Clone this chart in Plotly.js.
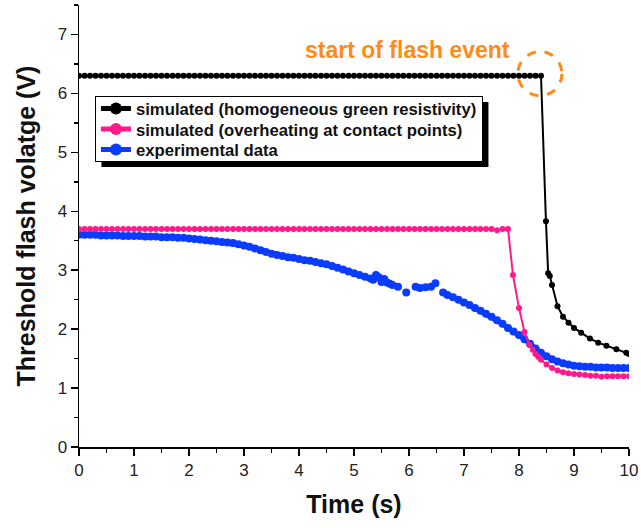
<!DOCTYPE html>
<html>
<head>
<meta charset="utf-8">
<script src="https://cdn.plot.ly/plotly-3.0.1.min.js"></script>
<style>html,body{margin:0;padding:0;background:#fff;}#chart{width:641px;height:528px;}</style>
</head>
<body>
<div id="chart"></div>
<script>
// Black: simulated (homogeneous green resistivity)
var blackT = [
  0,0.1,0.2,0.3,0.4,0.5,0.6,0.7,0.8,0.9,
  1,1.1,1.2,1.3,1.4,1.5,1.6,1.7,1.8,1.9,
  2,2.1,2.2,2.3,2.4,2.5,2.6,2.7,2.8,2.9,
  3,3.1,3.2,3.3,3.4,3.5,3.6,3.7,3.8,3.9,
  4,4.1,4.2,4.3,4.4,4.5,4.6,4.7,4.8,4.9,
  5,5.1,5.2,5.3,5.4,5.5,5.6,5.7,5.8,5.9,
  6,6.1,6.2,6.3,6.4,6.5,6.6,6.7,6.8,6.9,
  7,7.1,7.2,7.3,7.4,7.5,7.6,7.7,7.8,7.9,
  8,8.1,8.2,8.3,8.4,
  8.49,8.53,8.56,8.6,8.7,8.8,8.9,9.0,9.13,9.29,9.44,9.59,9.77,9.95,10
];
var blackV = [
  6.3,6.3,6.3,6.3,6.3,6.3,6.3,6.3,6.3,6.3,
  6.3,6.3,6.3,6.3,6.3,6.3,6.3,6.3,6.3,6.3,
  6.3,6.3,6.3,6.3,6.3,6.3,6.3,6.3,6.3,6.3,
  6.3,6.3,6.3,6.3,6.3,6.3,6.3,6.3,6.3,6.3,
  6.3,6.3,6.3,6.3,6.3,6.3,6.3,6.3,6.3,6.3,
  6.3,6.3,6.3,6.3,6.3,6.3,6.3,6.3,6.3,6.3,
  6.3,6.3,6.3,6.3,6.3,6.3,6.3,6.3,6.3,6.3,
  6.3,6.3,6.3,6.3,6.3,6.3,6.3,6.3,6.3,6.3,
  6.3,6.3,6.3,6.3,6.3,
  3.83,2.95,2.9,2.75,2.39,2.21,2.11,2.02,1.94,1.84,1.77,1.72,1.66,1.6,1.58
];

// Pink: simulated (overheating at contact points)
var pinkT = [
  0,0.1,0.2,0.3,0.4,0.5,0.6,0.7,0.8,0.9,
  1,1.1,1.2,1.3,1.4,1.5,1.6,1.7,1.8,1.9,
  2,2.1,2.2,2.3,2.4,2.5,2.6,2.7,2.8,2.9,
  3,3.1,3.2,3.3,3.4,3.5,3.6,3.7,3.8,3.9,
  4,4.1,4.2,4.3,4.4,4.5,4.6,4.7,4.8,4.9,
  5,5.1,5.2,5.3,5.4,5.5,5.6,5.7,5.8,5.9,
  6,6.1,6.2,6.3,6.4,6.5,6.6,6.7,6.8,6.9,
  7,7.1,7.2,7.3,7.4,7.5,7.6,7.7,7.8,
  7.89,8.0,8.1,8.19,8.25,8.3,8.35,8.4,8.5,8.6,8.7,8.8,8.9,9.0,9.1,9.2,9.3,9.4,9.5,9.6,9.7,9.8,9.9,10
];
var pinkV = [
  3.7,3.7,3.7,3.7,3.7,3.7,3.7,3.7,3.7,3.7,
  3.7,3.7,3.7,3.7,3.7,3.7,3.7,3.7,3.7,3.7,
  3.7,3.7,3.7,3.7,3.7,3.7,3.7,3.7,3.7,3.7,
  3.7,3.7,3.7,3.7,3.7,3.7,3.7,3.7,3.7,3.7,
  3.7,3.7,3.7,3.7,3.7,3.7,3.7,3.7,3.7,3.7,
  3.7,3.7,3.7,3.7,3.7,3.7,3.7,3.7,3.7,3.7,
  3.7,3.7,3.7,3.7,3.7,3.7,3.7,3.7,3.7,3.7,
  3.7,3.7,3.7,3.7,3.7,3.7,3.68,3.7,3.7,
  2.92,2.36,1.95,1.73,1.65,1.58,1.53,1.48,1.40,1.34,1.30,1.27,1.25,1.24,1.23,1.22,1.21,1.21,1.19,1.20,1.20,1.20,1.20,1.20
];

// Blue: experimental data
var blueT = [
  0,0.1,0.2,0.3,0.4,0.5,0.6,0.7,0.8,0.9,
  1,1.1,1.2,1.3,1.4,1.5,1.6,1.7,1.8,1.9,
  2,2.1,2.2,2.3,2.4,2.5,2.6,2.7,2.8,2.9,
  3,3.1,3.2,3.3,3.4,3.5,3.6,3.7,3.8,3.9,
  4,4.1,4.2,4.3,4.4,4.5,4.6,4.7,4.8,4.9,
  5,5.1,5.2,5.3,5.35,5.4,5.45,5.5,5.55,5.6,5.65,5.7,5.8,
  5.88,5.95,6.05,
  6.12,6.2,6.3,6.4,6.48,6.55,
  6.62,6.7,6.8,6.9,7,7.1,7.2,7.3,7.4,7.5,7.6,7.7,7.8,7.9,
  8,8.1,8.2,8.3,8.4,8.5,8.6,8.7,8.8,8.9,
  9,9.1,9.2,9.3,9.4,9.5,9.6,9.7,9.8,9.9,10
];
var blueV = [
  3.60,3.60,3.60,3.60,3.59,3.59,3.59,3.59,3.58,3.58,
  3.58,3.58,3.57,3.57,3.57,3.56,3.56,3.56,3.55,3.55,
  3.54,3.53,3.52,3.51,3.50,3.49,3.48,3.47,3.46,3.44,
  3.42,3.40,3.37,3.34,3.31,3.28,3.26,3.24,3.22,3.21,
  3.19,3.17,3.16,3.14,3.12,3.10,3.07,3.04,3.01,2.98,
  2.95,2.92,2.89,2.86,2.84,2.92,2.88,2.80,2.85,2.79,2.77,2.75,2.72,
  null,2.62,null,
  2.72,2.70,2.71,2.72,2.78,null,
  2.62,2.58,2.54,2.50,2.45,2.41,2.36,2.31,2.26,2.21,2.15,2.09,2.02,1.96,
  1.90,1.83,1.75,1.67,1.60,1.54,1.49,1.45,1.42,1.40,
  1.38,1.37,1.36,1.36,1.35,1.35,1.35,1.34,1.34,1.34,1.34
];

var seriesNames = [
  'simulated (homogeneous green resistivity)',
  'simulated (overheating at contact points)',
  'experimental data'
];
var xTicks = [0,1,2,3,4,5,6,7,8,9,10];
var yTicks = [0,1,2,3,4,5,6,7];

var FONT = 'Arial, "Liberation Sans", sans-serif';
var ORANGE = '#FF8A14';

var traces = [
  {x: blueT, y: blueV, name: seriesNames[2], mode: 'lines+markers', connectgaps: false,
   line: {color: '#0A3CFF', width: 5}, marker: {color: '#0A3CFF', size: 8}},
  {x: pinkT, y: pinkV, name: seriesNames[1], mode: 'lines+markers',
   line: {color: '#FF1A8C', width: 2}, marker: {color: '#FF1A8C', size: 6}},
  {x: blackT, y: blackV, name: seriesNames[0], mode: 'lines+markers',
   line: {color: '#000000', width: 2}, marker: {color: '#000000', size: 6}}
];

var layout = {
  width: 641, height: 528,
  margin: {l: 79, r: 12, t: 5, b: 81},
  paper_bgcolor: '#ffffff', plot_bgcolor: '#ffffff',
  font: {family: FONT, color: '#222'},
  showlegend: true,
  legend: {
    x: 0.029, y: 0.795, xanchor: 'left', yanchor: 'top',
    traceorder: 'reversed', itemsizing: 'constant',
    bgcolor: '#ffffff', bordercolor: '#000', borderwidth: 1,
    font: {family: FONT, size: 16.7, color: '#111', weight: 'bold'},
    tracegroupgap: 0
  },
  xaxis: {
    range: [0, 10], tickvals: xTicks, ticktext: xTicks.map(String),
    ticks: 'outside', ticklen: 7, tickwidth: 1.5, tickcolor: '#000',
    showline: true, linecolor: '#000', linewidth: 1.5,
    showgrid: false, zeroline: false,
    minor: {ticks: 'outside', ticklen: 4, tickwidth: 1.5, tickcolor: '#000', dtick: 0.5, showgrid: false},
    tickfont: {family: FONT, size: 17, color: '#222'},
    title: {text: 'Time (s)', font: {family: FONT, size: 25, color: '#111', weight: 'bold'}, standoff: 16}
  },
  yaxis: {
    range: [0, 7.5], tickvals: yTicks, ticktext: yTicks.map(String),
    ticks: 'outside', ticklen: 7, tickwidth: 1.5, tickcolor: '#000',
    showline: true, linecolor: '#000', linewidth: 1.5,
    showgrid: false, zeroline: false,
    minor: {ticks: 'outside', ticklen: 4, tickwidth: 1.5, tickcolor: '#000', dtick: 0.5, showgrid: false},
    tickfont: {family: FONT, size: 17, color: '#222'},
    title: {text: 'Threshold flash volatge (V)', font: {family: FONT, size: 25, color: '#111', weight: 'bold'}, standoff: 15}
  },
  shapes: [
    {type: 'rect', xref: 'paper', yref: 'paper', layer: 'above',
     x0: 0.040, x1: 0.742, y0: 0.633, y1: 0.78,
     fillcolor: '#000', line: {width: 0}},
    {type: 'circle', xref: 'x', yref: 'y', layer: 'above',
     x0: 7.98, x1: 8.78, y0: 5.96, y1: 6.71,
     line: {color: ORANGE, width: 3, dash: 'dash'}}
  ],
  annotations: [
    {xref: 'x', yref: 'y', x: 5.98, y: 6.73, showarrow: false,
     text: 'start of flash event',
     font: {family: FONT, size: 23, color: ORANGE, weight: 'bold'}}
  ]
};

var ROW_FIRST = 13.5, ROW_GAP = 20.5, ROW_LAST_PAD = 10.5;
var BOX_H = ROW_FIRST + 2 * ROW_GAP + ROW_LAST_PAD;

function compactLegend(gd) {
  var bg = gd.querySelector('.legend .bg');
  if (!bg) return;
  var top = bg.getBoundingClientRect().top;
  var items = Array.prototype.slice.call(gd.querySelectorAll('.legend .traces'));
  items.sort(function (a, b) { return a.getBoundingClientRect().top - b.getBoundingClientRect().top; });
  items.forEach(function (it, i) {
    var tr = it.getAttribute('transform') || '';
    var m = /translate\(\s*([-\d.e]+)[ ,]+([-\d.e]+)\s*\)/.exec(tr);
    if (!m) return;
    var tx = parseFloat(m[1]), ty = parseFloat(m[2]);
    var txt = it.querySelector('text');
    var r = (txt || it).getBoundingClientRect();
    var center = (r.top + r.bottom) / 2;
    var want = top + ROW_FIRST + i * ROW_GAP;
    it.setAttribute('transform', 'translate(' + tx + ',' + (ty + want - center) + ')');
  });
  bg.setAttribute('height', BOX_H);
}

var gd = document.getElementById('chart');
Plotly.newPlot(gd, traces, layout, {displayModeBar: false, staticPlot: true}).then(function () {
  var bg = gd.querySelector('.legend .bg');
  if (!bg) return;
  var bb = bg.getBoundingClientRect();
  var cb = gd.getBoundingClientRect();
  var s = gd._fullLayout._size;
  var off = 6;
  var left = bb.left - cb.left + off, right = bb.right - cb.left + off;
  var top = bb.top - cb.top + off, bottom = bb.top - cb.top + BOX_H + off;
  return Plotly.relayout(gd, {
    'shapes[0].x0': (left - s.l) / s.w,
    'shapes[0].x1': (right - s.l) / s.w,
    'shapes[0].y0': 1 - (bottom - s.t) / s.h,
    'shapes[0].y1': 1 - (top - s.t) / s.h
  });
}).then(function () {
  compactLegend(gd);
});
</script>
</body>
</html>
